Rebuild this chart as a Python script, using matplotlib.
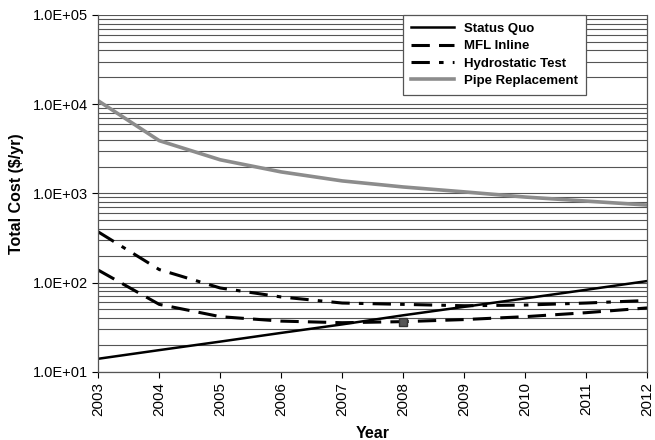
import matplotlib
matplotlib.use("Agg")
import matplotlib.pyplot as plt
from matplotlib.ticker import LogLocator, FuncFormatter, NullFormatter

plt.rcParams['font.family'] = ['Liberation Sans', 'DejaVu Sans']

years = [2003, 2004, 2005, 2006, 2007, 2008, 2009, 2010, 2011, 2012]
status_quo = [14, 17.5, 21.8, 27.3, 34, 43, 53.5, 66.5, 83, 104]
mfl_inline = [138, 57, 41.5, 37, 35.5, 36.5, 38.5, 41.5, 46, 52]
hydrostatic = [370, 140, 87, 69, 59, 57, 55, 56, 59, 63]
pipe_replacement = [10900, 3900, 2380, 1740, 1380, 1180, 1040, 910, 820, 740]
marker_year = [2008]
marker_value = [36]

fig = plt.figure(figsize=(6.55, 4.40), dpi=100)
ax = fig.add_axes([0.150, 0.155, 0.838, 0.811])

ax.plot(years, status_quo, color='black', lw=1.8, label='Status Quo')
ax.plot(years, mfl_inline, color='black', lw=2.2, dashes=(6, 3), label='MFL Inline')
ax.plot(years, hydrostatic, color='black', lw=2.2, dashes=(6, 3, 1.5, 3), label='Hydrostatic Test')
ax.plot(years, pipe_replacement, color='#8c8c8c', lw=2.6, label='Pipe Replacement')
ax.plot(marker_year, marker_value, ls='none', marker='s', ms=6, color='#555555', mec='#333333')

ax.set_yscale('log')
ax.set_ylim(10, 1e5)
ax.set_xlim(2003, 2012)
ax.set_xticks(years)
ax.set_xticklabels([str(y) for y in years], rotation=90, fontsize=11)

ax.yaxis.set_major_locator(LogLocator(base=10, numticks=10))
ax.yaxis.set_minor_locator(LogLocator(base=10, subs=range(2, 10), numticks=20))
ax.yaxis.set_major_formatter(FuncFormatter(lambda v, p: '%.1E' % v))
ax.yaxis.set_minor_formatter(NullFormatter())
ax.tick_params(axis='y', which='minor', length=0)
ax.tick_params(axis='y', which='major', labelsize=10.5, direction='out', length=4)
ax.tick_params(axis='x', direction='out', length=4)

ax.grid(True, which='major', axis='y', color='#555555', lw=0.8)
ax.grid(True, which='minor', axis='y', color='#555555', lw=0.8)
ax.set_axisbelow(True)

for s in ['left', 'bottom', 'right', 'top']:
    ax.spines[s].set_color('#555555')
    ax.spines[s].set_linewidth(0.9)
ax.spines['top'].set_visible(False)

ax.set_ylabel('Total Cost ($/yr)', fontsize=11.5, fontweight='bold', labelpad=6)
ax.set_xlabel('Year', fontsize=11.5, fontweight='bold', labelpad=7)

leg = ax.legend(loc='upper left', bbox_to_anchor=(0.556, 1.0), fontsize=9.5,
                frameon=True, fancybox=False, edgecolor='#555555', framealpha=1,
                handlelength=3.2, borderpad=0.6, labelspacing=0.38, borderaxespad=0)
leg.get_frame().set_linewidth(0.9)
for t in leg.get_texts():
    t.set_fontweight('bold')

fig.savefig('out.png', dpi=100)
